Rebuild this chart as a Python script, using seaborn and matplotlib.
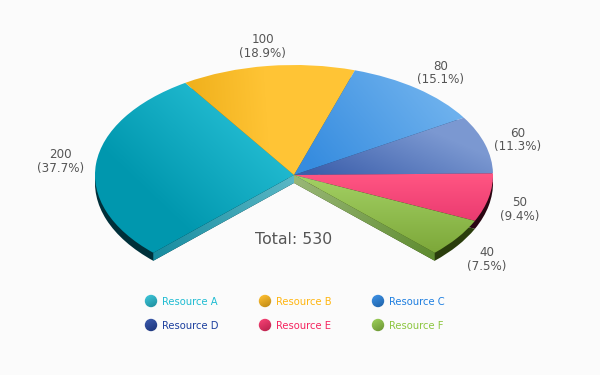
import numpy as np
import matplotlib
matplotlib.use('Agg')
import matplotlib.pyplot as plt
from matplotlib.colors import LinearSegmentedColormap
from matplotlib.patches import Circle, Polygon
from matplotlib.transforms import Affine2D
import seaborn as sns

names = ['Resource A', 'Resource B', 'Resource C', 'Resource D', 'Resource E', 'Resource F']
values = [200, 100, 80, 60, 50, 40]
total = 530

legend_colors = ['#1fbcd2', '#ffb612', '#1f7fe0', '#1c3f9e', '#f5245f', '#8cc63f']
rim_colors = ['#00303a', '#8a6a10', '#1d4f80', '#2a3f70', '#2a0612', '#2a3d0c']

# gradient per slice: start pixel, end pixel, start colour, end colour
slice_grads = [
    ((175, 220), (265, 125), '#0097ae', '#24bdd3'),
    ((190, 90), (265, 85), '#f0b11d', '#ffc435'),
    ((310, 165), (420, 75), '#368cdf', '#6cb0ed'),
    ((360, 195), (395, 115), '#3c5fab', '#7b98d1'),
    ((400, 175), (400, 222), '#ff5582', '#ea3a70'),
    ((400, 182), (400, 252), '#a0cd60', '#7da83a'),
]

# small nudges of the value labels, in pixels
label_dx = [0, 0, 1, -2, -4, 0]
label_dy = [0, 0, 0, 1, 0, 2.5]

W, H = 600, 375
CX, CY = 294, 175
RX, RY = 199, 110
DEPTH = 8

sns.set_theme(style='white')
plt.rcParams['font.family'] = ['DejaVu Sans']

xx, yy = np.meshgrid(np.arange(W) + 0.5, np.arange(H) + 0.5)
to_px = Affine2D().scale(1, -1).translate(0, H)

fig = plt.figure(figsize=(W / 100, H / 100), dpi=100, facecolor='#fbfbfb')
ax = fig.add_axes([0, 0, 1, 1])
lims = [-CX / RX, (W - CX) / RX, (CY - H) / RY, CY / RY]


def gradient(p0, p1, c0, c1, clip=None, zorder=3):
    dx, dy = p1[0] - p0[0], p1[1] - p0[1]
    t = ((xx - p0[0]) * dx + (yy - p0[1]) * dy) / (dx * dx + dy * dy)
    cmap = LinearSegmentedColormap.from_list('g', [c0, c1])
    im = ax.imshow(np.clip(t, 0, 1), cmap=cmap, vmin=0, vmax=1, aspect='auto',
                   extent=lims, origin='upper', zorder=zorder, interpolation='nearest')
    if clip is not None:
        im.set_clip_path(clip)
    return im


# pie covers 270 degrees, the last slice stays empty
pie_values = values + [total / 3]
d = DEPTH / RY

rim, _ = ax.pie(pie_values, colors=rim_colors + ['none'], startangle=225, counterclock=False,
                center=(0, -d), radius=1, wedgeprops={'linewidth': 0, 'zorder': 1})
top, _ = ax.pie(pie_values, colors=['none'] * 7, startangle=225, counterclock=False,
                radius=1, wedgeprops={'linewidth': 0, 'zorder': 4})

# flat cut faces of the missing part
left = np.deg2rad(top[0].theta2)
right = np.deg2rad(top[5].theta1)
for ang, grad in [(left, ((294, 175), (153, 252), '#5cb8c6', '#178ca0')),
                  (right, ((294, 175), (435, 252), '#9ab878', '#5f8c30'))]:
    ex, ey = np.cos(ang), np.sin(ang)
    face = Polygon([(0, 0), (ex, ey), (ex, ey - d), (0, -d)], closed=True,
                   facecolor='none', edgecolor='none', zorder=2)
    ax.add_patch(face)
    gradient(*grad, clip=face, zorder=2)

for wedge, grad in zip(top[:6], slice_grads):
    gradient(*grad, clip=wedge, zorder=3)

# value labels
for i, (wedge, v) in enumerate(zip(top[:6], values)):
    mid = np.deg2rad((wedge.theta1 + wedge.theta2) / 2)
    lx = 1.18 * np.cos(mid) + label_dx[i] / RX
    ly = 1.18 * np.sin(mid) - label_dy[i] / RY
    if ly < 0:
        ly -= d
    ax.text(lx, ly, '%d\n(%.1f%%)' % (v, 100 * v / total), ha='center', va='center',
            fontsize=8.6, color='#555555', linespacing=1.05, zorder=6)

ax.text(0, (CY - 239) / RY, 'Total: %d' % total, ha='center', va='center',
        fontsize=11.3, color='#555555', zorder=6)

# legend, three columns and two rows
dot_x = [151, 265, 378]
dot_y = [301, 325]
for i, (name, col) in enumerate(zip(names, legend_colors)):
    px, py = dot_x[i % 3], dot_y[i // 3]
    dot = Circle((px, py), 6.2, transform=to_px,
                 facecolor='none', edgecolor='none', zorder=4)
    ax.add_patch(dot)
    hi = sns.light_palette(col, n_colors=8)[6]
    lo = sns.dark_palette(col, n_colors=8)[5]
    gradient((px - 3, py - 6), (px + 3, py + 6), hi, lo, clip=dot, zorder=5)
    ax.text((px + 11.3 - CX) / RX, (CY - py - 1) / RY, name, ha='left', va='center',
            fontsize=7.2, color=col, zorder=6)

ax.set_xlim(lims[0], lims[1])
ax.set_ylim(lims[2], lims[3])
ax.set_aspect('auto')
ax.axis('off')

fig.savefig('out.png', dpi=100, facecolor=fig.get_facecolor())
